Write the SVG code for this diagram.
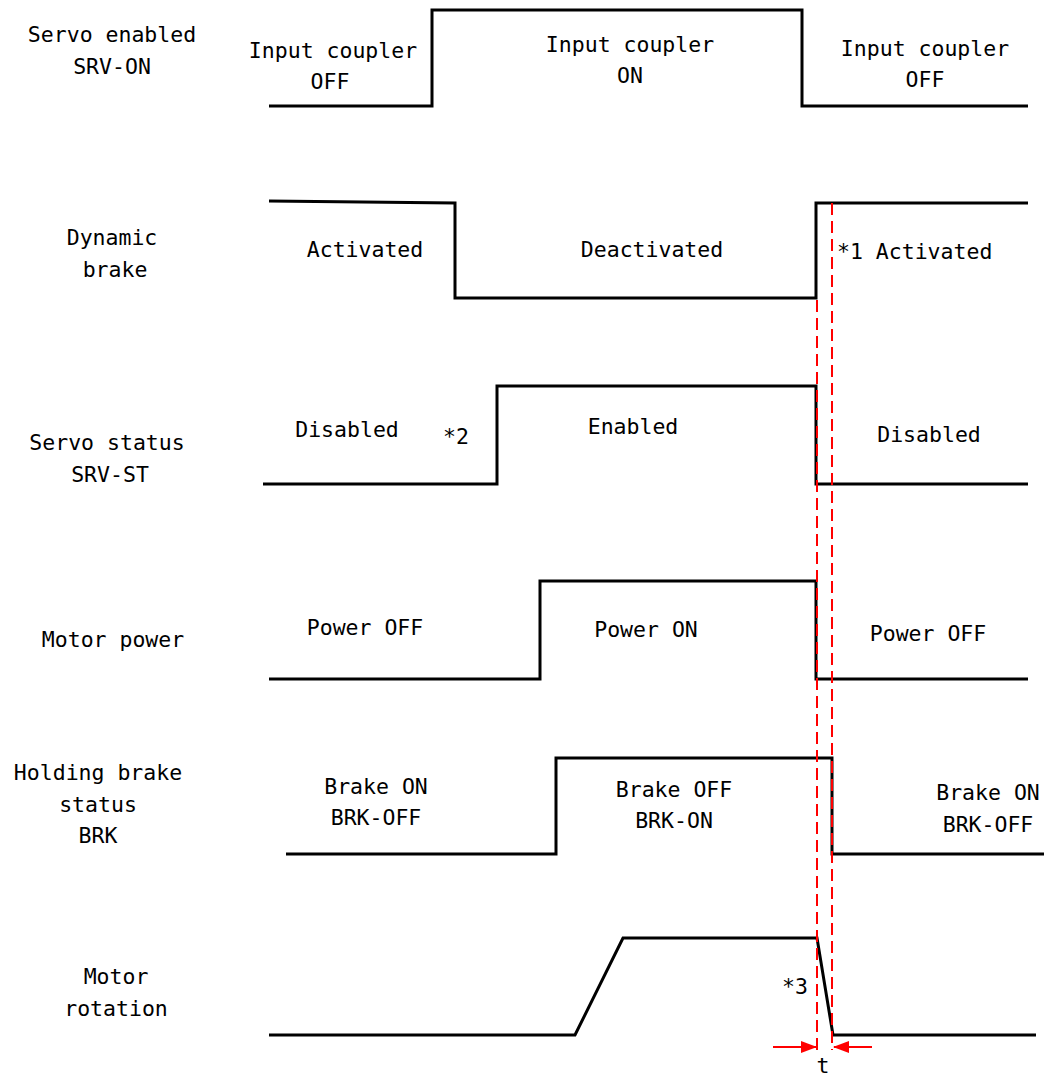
<svg xmlns="http://www.w3.org/2000/svg" width="1046" height="1076" viewBox="0 0 1046 1076">
<defs>
<style>
.sig{fill:none;stroke:#000;stroke-width:3;stroke-linejoin:miter}
.dash{fill:none;stroke:#ff0000;stroke-width:2;stroke-dasharray:12,6}
.arr{fill:none;stroke:#ff0000;stroke-width:2}
text{font-family:"DejaVu Sans Mono","Liberation Mono",monospace;font-size:21.5px;fill:#000;text-anchor:middle}
</style>
<marker id="ah" markerWidth="16" markerHeight="12" refX="15" refY="6" orient="auto" markerUnits="userSpaceOnUse">
<path d="M0,0 L16,6 L0,12 Z" fill="#ff0000"/>
</marker>
</defs>
<rect width="1046" height="1076" fill="#fff"/>
<g id="labels">
<text x="112" y="42">Servo enabled</text>
<text x="112" y="74">SRV-ON</text>
<text x="112" y="245">Dynamic</text>
<text x="115" y="277">brake</text>
<text x="107" y="450">Servo status</text>
<text x="110" y="482">SRV-ST</text>
<text x="113" y="647">Motor power</text>
<text x="98" y="780">Holding brake</text>
<text x="98" y="812">status</text>
<text x="98" y="843">BRK</text>
<text x="116" y="984">Motor</text>
<text x="116" y="1016">rotation</text>
</g>
<g id="sig-srv-on">
<path class="sig" d="M269,106 H432 V10 H802 V106 H1028"/>
<text x="333" y="58">Input coupler</text>
<text x="330" y="89">OFF</text>
<text x="630" y="52">Input coupler</text>
<text x="630" y="83">ON</text>
<text x="925" y="56">Input coupler</text>
<text x="925" y="87">OFF</text>
</g>
<g id="sig-dynamic-brake">
<path class="sig" d="M269,201 L455,203 V298 H816 V203 H1028"/>
<text x="365" y="257">Activated</text>
<text x="652" y="257">Deactivated</text>
<text x="837" y="259" style="text-anchor:start">*1 Activated</text>
</g>
<g id="sig-srv-st">
<path class="sig" d="M263,484 H497 V386 H816 V484 H1028"/>
<text x="347" y="437">Disabled</text>
<text x="456" y="444">*2</text>
<text x="633" y="434">Enabled</text>
<text x="929" y="442">Disabled</text>
</g>
<g id="sig-motor-power">
<path class="sig" d="M269,679 H540 V581 H816 V679 H1028"/>
<text x="365" y="635">Power OFF</text>
<text x="646" y="637">Power ON</text>
<text x="928" y="641">Power OFF</text>
</g>
<g id="sig-brk">
<path class="sig" d="M286,854 H556 V758 H832 V854 H1044"/>
<text x="376" y="794">Brake ON</text>
<text x="376" y="825">BRK-OFF</text>
<text x="674" y="797">Brake OFF</text>
<text x="674" y="828">BRK-ON</text>
<text x="988" y="800">Brake ON</text>
<text x="988" y="832">BRK-OFF</text>
</g>
<g id="sig-motor-rotation">
<path class="sig" d="M269,1035 H575 L623,938 H817 L833,1035 H1036"/>
<text x="795" y="994">*3</text>
</g>
<g id="connectors">
<line class="dash" x1="817" y1="300" x2="817" y2="1050"/>
<line class="dash" x1="832" y1="203" x2="832" y2="1050"/>
<line class="arr" x1="773" y1="1047" x2="816" y2="1047" marker-end="url(#ah)"/>
<line class="arr" x1="872" y1="1047" x2="834" y2="1047" marker-end="url(#ah)"/>
<text x="823" y="1073">t</text>
</g>
</svg>
